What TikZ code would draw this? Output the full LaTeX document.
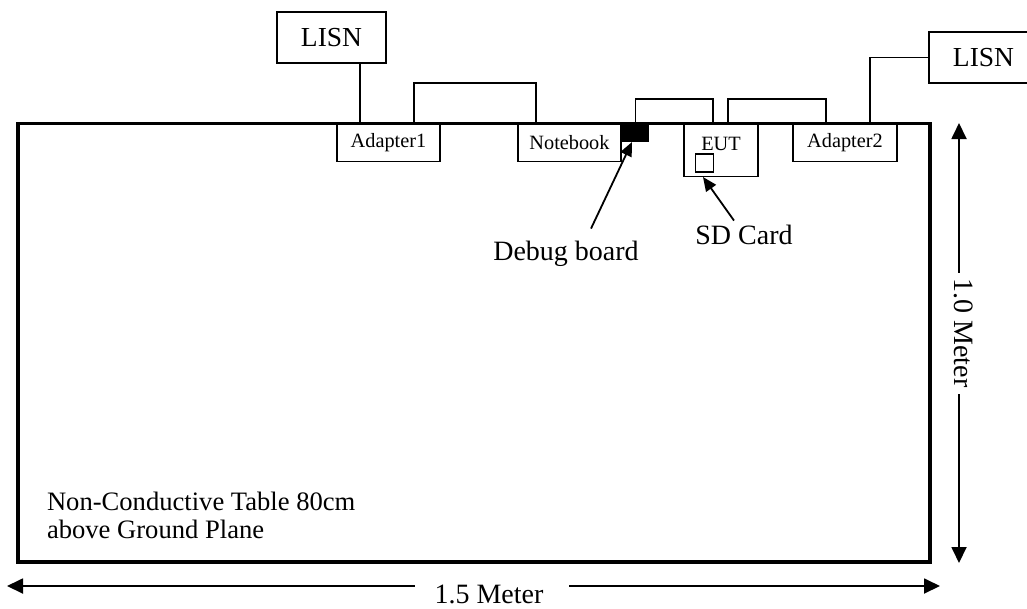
\documentclass[tikz,border=0pt]{standalone}
\usepackage{fontspec}
\setmainfont{Liberation Serif}
\usetikzlibrary{arrows.meta,calc}
\begin{document}
\begin{tikzpicture}[x=1pt,y=-1pt,
  every node/.style={outer sep=0pt},
  box/.style={draw,line width=1.3pt,inner sep=0pt,anchor=north,font=\fontsize{20.3}{24}\selectfont},
  lisnbox/.style={draw,line width=1.3pt,minimum width=109pt,minimum height=51pt,inner sep=0pt,font=\fontsize{27.5}{32}\selectfont},
  cable/.style={line width=1.3pt},
  big/.style={inner sep=0pt,font=\fontsize{28}{32}\selectfont},
  ptr/.style={line width=1.8pt,-{Triangle[width=12pt,length=14pt]}},
  dimarrow/.style={line width=1.8pt,-{Triangle[width=15pt,length=16pt]}},
]
\useasboundingbox (0,0) rectangle (1027,608);

% table
\node[draw,line width=3.5pt,minimum width=912pt,minimum height=438.5pt,anchor=north west,inner sep=0pt] (table) at (18,123.5) {};

% devices
\node[box,minimum width=103pt,minimum height=38pt] (a1) at (388.5,123.5) {Adapter1};
\node[box,minimum width=103pt,minimum height=38pt] (nb) at (569.5,123.5) {Notebook};
\node[box,minimum width=74pt,minimum height=53pt] (eut) at (721,123.5) {};
\node[inner sep=0pt,anchor=base,font=\fontsize{20.3}{24}\selectfont] (eutt) at ([yshift=-26.5pt]eut.north) {EUT};
\node[box,minimum width=104pt,minimum height=38pt] (a2) at (845,123.5) {Adapter2};
\node[fill=black,minimum width=27pt,minimum height=20pt,inner sep=0pt] (db) at (635.5,132) {};
\node[draw,line width=1.5pt,minimum size=18pt,inner sep=0pt] (sd) at (704.5,163) {};

% LISNs
\node[lisnbox] (lisn1) at (331.5,37.5) {LISN};
\node[lisnbox] (lisn2) at (983.5,57.5) {LISN};

% cables
\draw[cable] ([xshift=28.5pt]lisn1.south) -- ([xshift=-28.5pt]a1.north);
\draw[cable] ([xshift=25.5pt]a1.north) -- ++(0,-40.5) -| ([xshift=-33.5pt]nb.north);
\draw[cable] (db.north) -- ++(0,-23) -| ([xshift=-8pt]eut.north);
\draw[cable] ([xshift=7pt]eut.north) -- ++(0,-24.5) -| ([xshift=-19pt]a2.north);
\draw[cable] ([xshift=25pt]a2.north) |- (lisn2.west);

% pointers
\node[big,anchor=base] (dbt) at (566,260) {Debug board};
\draw[ptr] ([xshift=25pt,yshift=12pt]dbt.north) -- ([xshift=-3.5pt]db.south);
\node[big,anchor=base] (sdt) at (744,244) {SD Card};
\draw[ptr] ([xshift=-10pt,yshift=4pt]sdt.north) -- ([xshift=-1.5pt,yshift=-5pt]sd.south);

% table text
\node[inner sep=0pt,anchor=base west,font=\fontsize{26.6}{28}\selectfont] (t1) at (47,510) {Non-Conductive Table 80cm};
\node[inner sep=0pt,anchor=base west,font=\fontsize{26.6}{28}\selectfont] (t2) at (47,538) {above Ground Plane};

% dimensions
\coordinate (hl) at (7,586);
\coordinate (hr) at (940,586);
\node[big,anchor=base] (m15) at (489,603) {1.5 Meter};
\draw[dimarrow] ([xshift=-20pt]m15.west |- hl) -- (hl);
\draw[dimarrow] ([xshift=26pt]m15.east |- hr) -- (hr);

\coordinate (vt) at (959,123);
\coordinate (vb) at (959,563);
\node[big,rotate=-90] (m10) at (963.5,333) {1.0 Meter};
\draw[dimarrow] ([yshift=6pt]vt |- m10.west) -- (vt);
\draw[dimarrow] ([yshift=-7pt]vb |- m10.east) -- (vb);
\end{tikzpicture}
\end{document}
